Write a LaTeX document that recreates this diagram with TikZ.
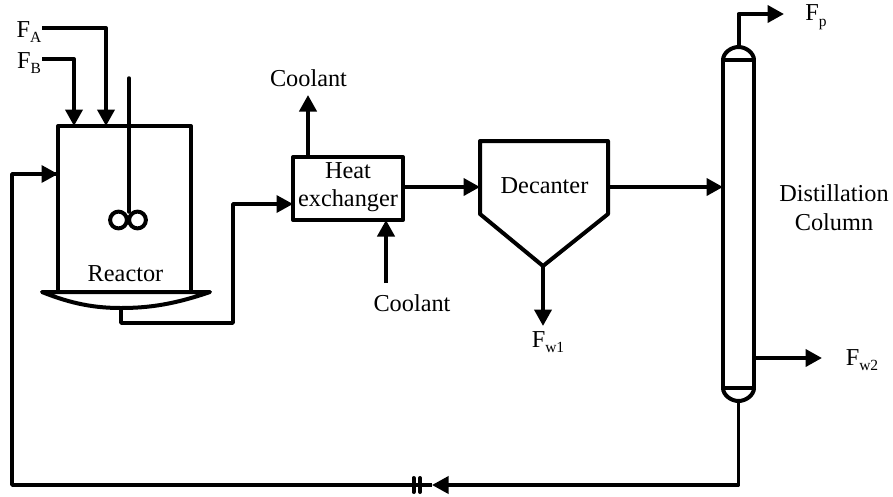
\documentclass[tikz,border=0pt]{standalone}
\usepackage{fontspec}
\setmainfont{Liberation Serif}
\usetikzlibrary{arrows.meta,calc}
\newcommand{\subsc}[1]{\raisebox{-0.5ex}{\fontsize{15.5}{15.5}\selectfont #1}}
\tikzset{
  x=1pt,y=-1pt,
  vessel/.style={draw=black,line width=4pt,line join=round,fill=none,inner sep=0pt,outer sep=0pt},
  pipe/.style={draw=black,line width=4pt,line join=round},
  thinpipe/.style={draw=black,line width=3.5pt,line join=round},
  flow/.style={pipe,-{Triangle[length=16.5pt,width=17pt]}},
  thinflow/.style={thinpipe,-{Triangle[length=16.5pt,width=17pt]}},
  label/.style={inner sep=0pt,outer sep=0pt,font=\fontsize{24.3}{28}\selectfont,align=center,text=black},
}
\begin{document}
\begin{tikzpicture}
\useasboundingbox (0,0) rectangle (893,496);
% Equipment
\node[vessel,minimum width=133pt,minimum height=166pt] (reactor) at (124.5,209) {};
\node[vessel,minimum width=110pt,minimum height=63pt] (hx) at (348,188.5) {};
\coordinate (dectl) at (480,141);
\coordinate (dectr) at (608,141);
\coordinate (decr) at (608,214);
\coordinate (decl) at (480,214);
\coordinate (decb) at (543,266);
\draw[vessel] (dectl) -- (dectr) -- (decr) -- (decb) -- (decl) -- cycle;
\node[vessel,line width=4.5pt,minimum width=31pt,minimum height=328pt] (column) at (738.5,224) {};
\coordinate (coltop) at (738.5,47);
\coordinate (colbot) at (738.5,401);
\draw[vessel] (column.north west) .. controls (723,53) and (731,47) .. (coltop) .. controls (746,47) and (754,53) .. (column.north east);
\draw[vessel] (column.south west) .. controls (723,395) and (731,401) .. (colbot) .. controls (746,401) and (754,395) .. (column.south east);
% Reactor base
\coordinate (basel) at (42,292);
\coordinate (baser) at (210,292);
\coordinate (basem) at (121,308);
\draw[vessel] (basel) -- (baser) .. controls (175,304) and (150,308) .. (basem) .. controls (95,308) and (72,304) .. (basel) -- cycle;
% Agitator
\coordinate (shafttop) at (129,78);
\coordinate (shaftbot) at (129,212);
\draw[thinpipe,line cap=round] (shafttop) -- (shaftbot);
\draw[line width=4pt] (118.5,220) circle (8.4);
\draw[line width=4pt] (137.5,220) circle (8.4);
% Labels
\node[label] (fa) at (29,32) {F\subsc{A}};
\node[label] (fb) at (29,63) {F\subsc{B}};
\node[label] (reactorlabel) at (125.5,274) {Reactor};
\node[label] (coolout) at (308.5,78) {Coolant};
\node[label] (coolin) at (412,303) {Coolant};
\node[label] (hxlabel) at (348,187.5) {Heat\\exchanger};
\node[label] (declabel) at (544.5,186) {Decanter};
\node[label] (fw1) at (548,342) {F\subsc{w1}};
\node[label] (fp) at (816,17) {F\subsc{p}};
\node[label] (fw2) at (862,360) {F\subsc{w2}};
\node[label] (dist) at (834,208) {Distillation\\[1pt]Column};
% Feeds
\coordinate (fastart) at (42,28);
\coordinate (fbstart) at (42,59);
\coordinate (faend) at (106,126);
\coordinate (fbend) at (74,126);
\draw[flow] (fastart) -| (faend);
\draw[flow] (fbstart) -| (fbend);
% Reactor to heat exchanger
\coordinate (rjog) at (121,323);
\coordinate (rup) at (233,204);
\draw[thinflow] (basem) -- (rjog) -- (rjog -| rup) -- (rup) -- (rup -| hx.west);
% Coolant
\coordinate (cooloutend) at (308,95);
\coordinate (coolinstart) at (386,283);
\draw[flow] (hx.north -| cooloutend) -- (cooloutend);
\draw[flow] (coolinstart) -- (coolinstart |- hx.south);
% HX to decanter and on
\coordinate (hxout) at (403,187);
\coordinate (decin) at (480,187);
\coordinate (decout) at (608,187);
\coordinate (colin) at (723,187);
\draw[flow] (hxout) -- (decin);
\draw[flow] (decout) -- (colin);
\coordinate (fw1end) at (543,326);
\draw[flow] (decb) -- (fw1end);
% Column outlets
\coordinate (fpbend) at (738.5,14);
\coordinate (fpend) at (784,14);
\draw[flow] (coltop) -- (fpbend) -- (fpend);
\coordinate (fw2start) at (755,358);
\coordinate (fw2end) at (822,358);
\draw[flow] (fw2start) -- (fw2end);
% Recycle
\coordinate (bot) at (738.5,485);
\coordinate (valvearrow) at (432,485);
\coordinate (recl) at (12,485);
\coordinate (recu) at (12,174);
\coordinate (recin) at (58,174);
\draw[thinflow] (colbot) -- (bot) -- (valvearrow);
\draw[thinpipe] (valvearrow) -- (recl) -- (recu) -- (recin);
\draw[thinflow] (recu) -- (recin);
\coordinate (v1a) at (413.5,478); \coordinate (v1b) at (413.5,492);
\coordinate (v2a) at (420,478); \coordinate (v2b) at (420,492);
\draw[line width=4pt,line cap=round] (v1a) -- (v1b);
\draw[line width=4pt,line cap=round] (v2a) -- (v2b);
\end{tikzpicture}
\end{document}
